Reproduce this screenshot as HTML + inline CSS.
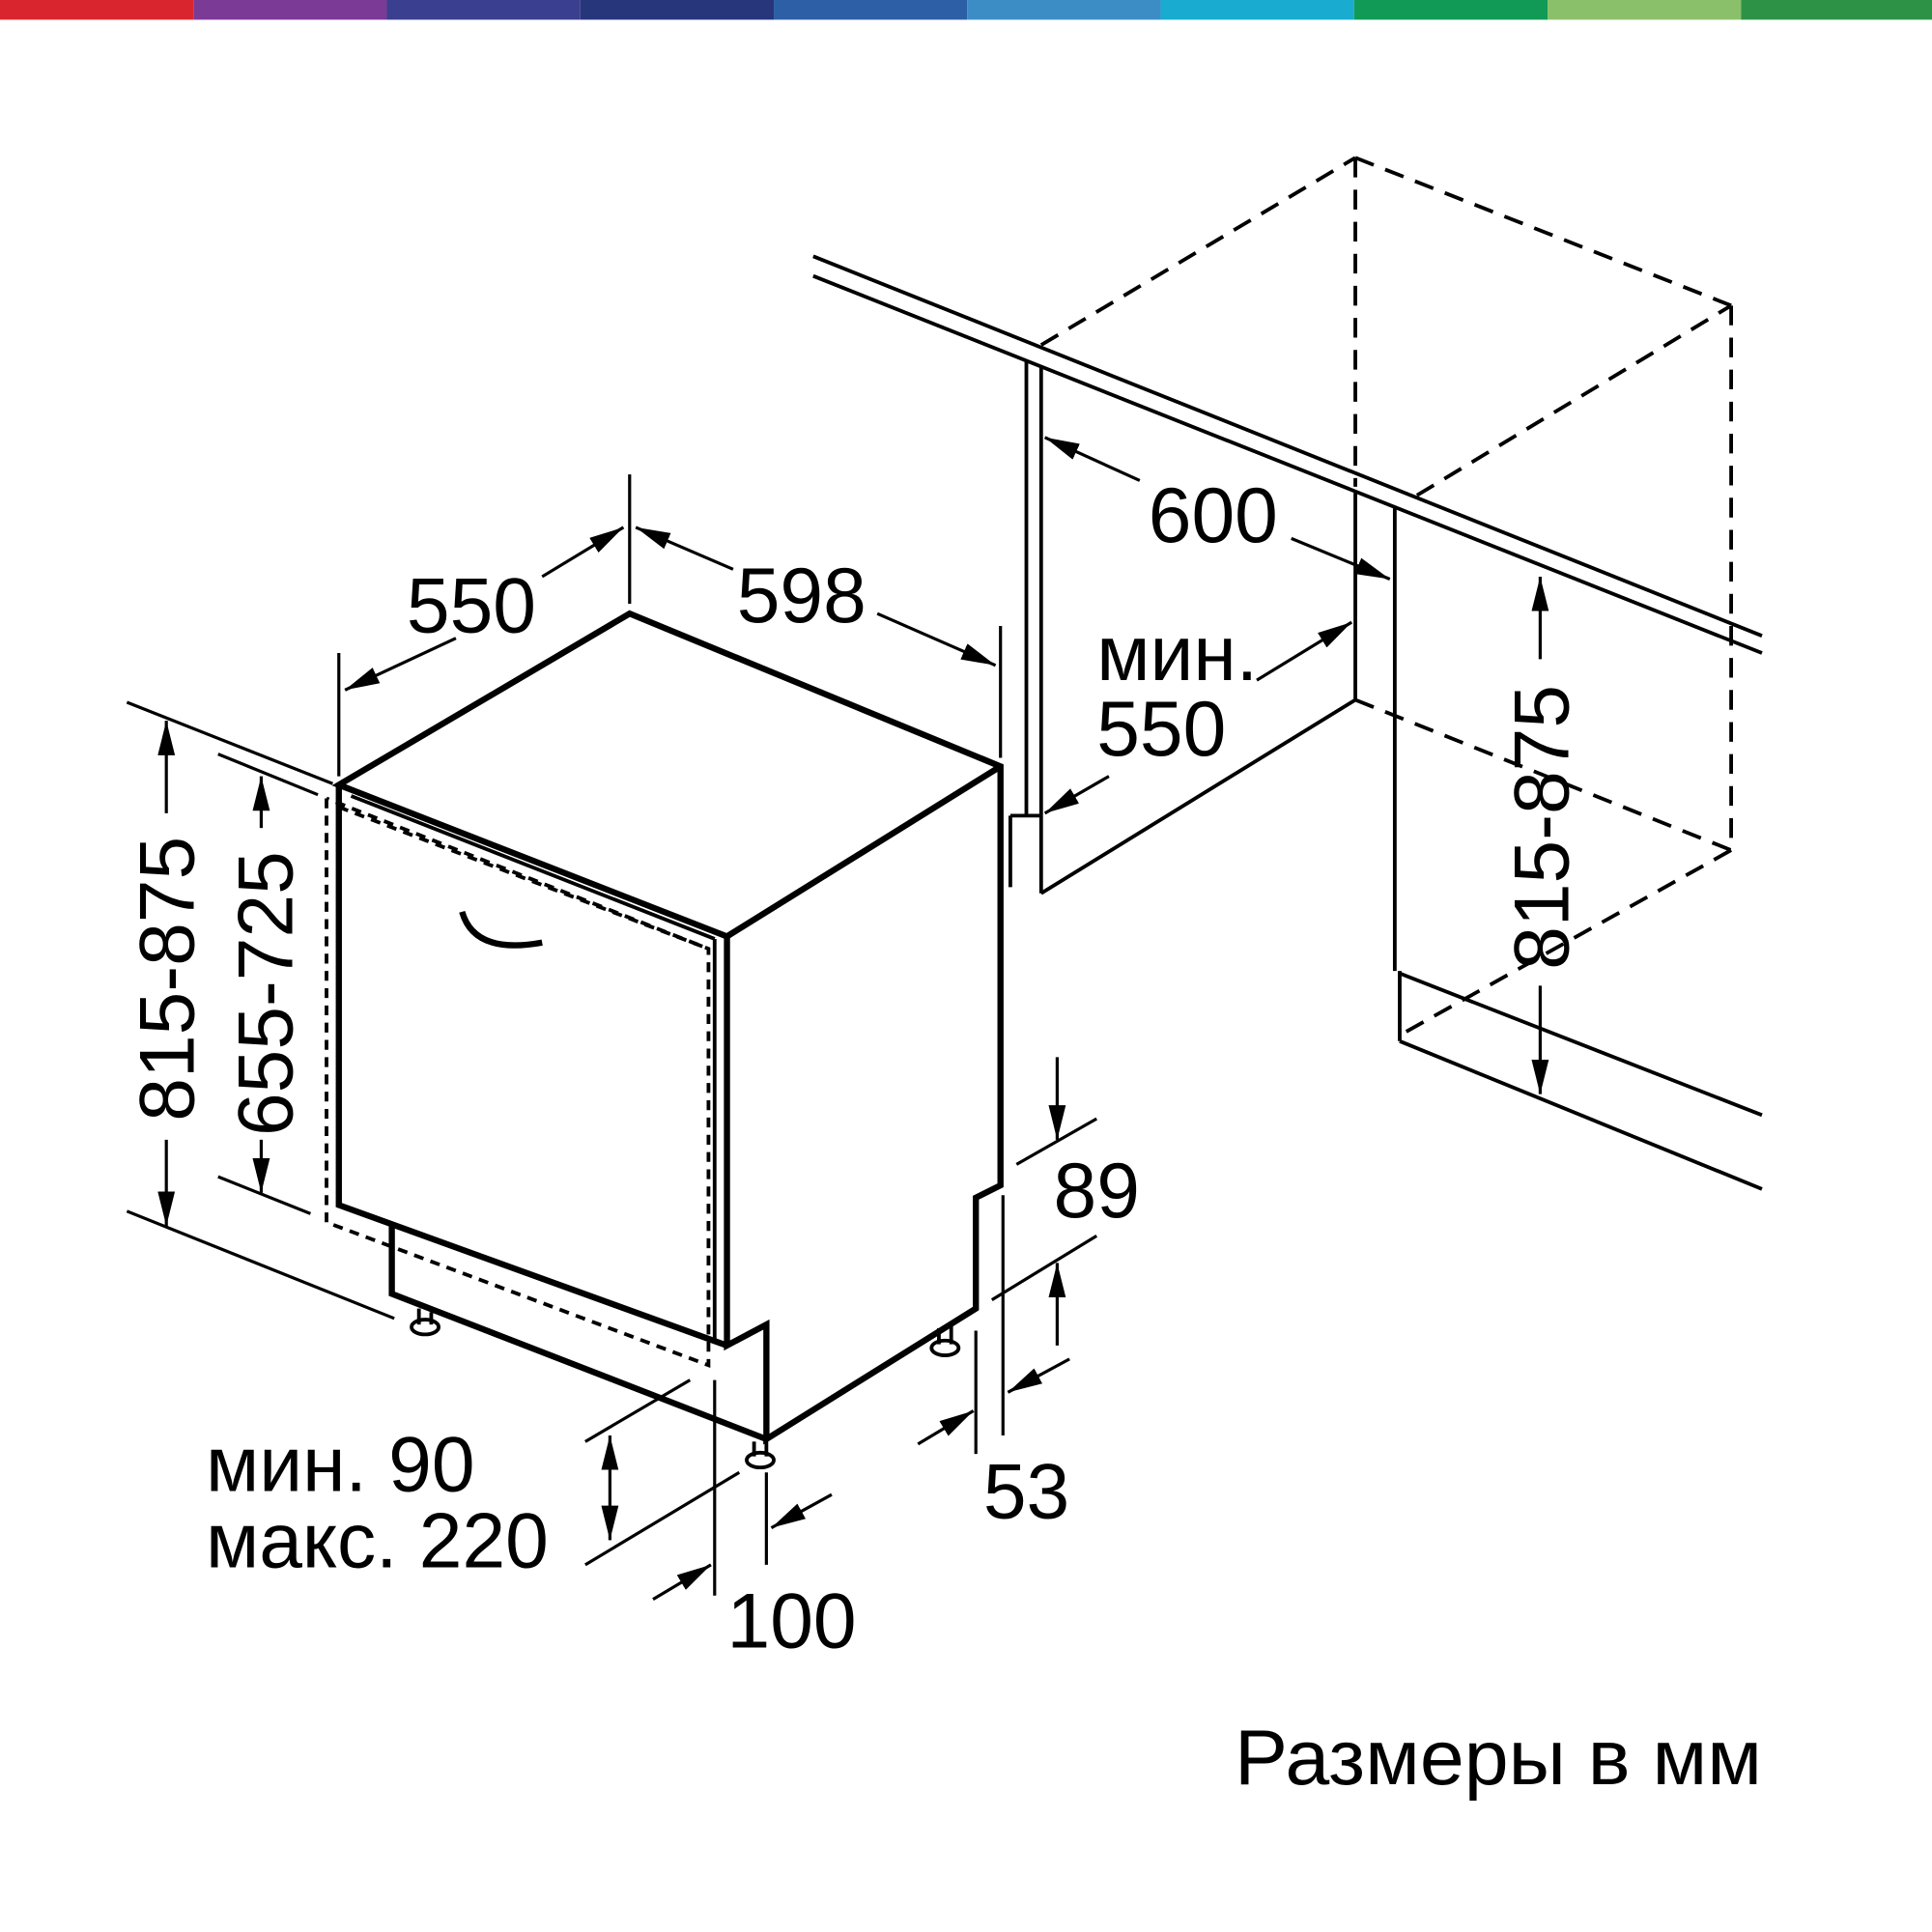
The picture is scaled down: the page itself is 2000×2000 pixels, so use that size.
<!DOCTYPE html>
<html><head><meta charset="utf-8"><style>
html,body{margin:0;padding:0;background:#fff;}
svg{display:block;}
text{font-family:"Liberation Sans",sans-serif;fill:#000;}
</style></head><body>
<svg width="2000" height="2000" viewBox="0 0 1568 1568" xmlns="http://www.w3.org/2000/svg">
<defs>
<marker id="b" viewBox="0 0 20 10" refX="20" refY="5" markerWidth="28" markerHeight="14" orient="auto-start-reverse" markerUnits="userSpaceOnUse"><path d="M0,0 L20,5 L0,10 z" fill="#000"/></marker>
</defs>
<rect x="0" y="0" width="157" height="16" fill="#d9262e"/>
<rect x="157" y="0" width="157" height="16" fill="#7b3a96"/>
<rect x="314" y="0" width="157" height="16" fill="#3a3f8f"/>
<rect x="471" y="0" width="157" height="16" fill="#27367a"/>
<rect x="628" y="0" width="157" height="16" fill="#2d5fa6"/>
<rect x="785" y="0" width="157" height="16" fill="#3c8dc5"/>
<rect x="942" y="0" width="157" height="16" fill="#1aabd0"/>
<rect x="1099" y="0" width="157" height="16" fill="#119a56"/>
<rect x="1256" y="0" width="157" height="16" fill="#8bc06b"/>
<rect x="1413" y="0" width="155" height="16" fill="#2e9246"/>

<g fill="none" stroke="#000" stroke-width="3">
<line x1="660" y1="208" x2="1430" y2="516"/>
<line x1="660" y1="224" x2="1430" y2="530"/>
<line x1="833" y1="293" x2="833" y2="662"/>
<line x1="845" y1="298" x2="845" y2="725"/>
<line x1="820" y1="662" x2="845" y2="662"/>
<line x1="820" y1="662" x2="820" y2="720"/>
<line x1="845" y1="725" x2="1100" y2="568"/>
<line x1="1100" y1="400" x2="1100" y2="568"/>
<line x1="1132" y1="412" x2="1132" y2="788"/>
<line x1="1136" y1="788" x2="1136" y2="845"/>
<line x1="1136" y1="790" x2="1430" y2="905"/>
<line x1="1136" y1="845" x2="1430" y2="965"/>
</g>
<g fill="none" stroke="#000" stroke-width="3" stroke-dasharray="16,10">
<line x1="845" y1="280" x2="1100" y2="128"/>
<line x1="1100" y1="128" x2="1405" y2="248"/>
<line x1="1100" y1="128" x2="1100" y2="395"/>
<line x1="1405" y1="248" x2="1405" y2="690"/>
<line x1="1150" y1="402" x2="1405" y2="248"/>
<line x1="1100" y1="568" x2="1405" y2="690"/>
<line x1="1405" y1="690" x2="1140" y2="838"/>
</g>

<g fill="none" stroke="#000" stroke-width="5" stroke-linejoin="miter">
<path d="M275,637 L511,498 L812,622 L812,962 L792,972 L792,1062 L622,1168 L622,1075 L590,1092 L590,760 L275,637 Z"/>
<path d="M812,622 L590,760"/>
<path d="M275,637 L275,978 L590,1092"/>
<path d="M318,993 L318,1050 L622,1168"/>
</g>
<g fill="none" stroke="#000" stroke-width="3">
<line x1="285" y1="646" x2="580" y2="762"/>
<line x1="580" y1="762" x2="580" y2="1090"/>
<path d="M375,740 Q385,775 440,765" stroke-width="5"/>
</g>
<g fill="none" stroke="#000" stroke-width="3" stroke-dasharray="8,6">
<path d="M265,648 L265,992 L575,1108 L575,770 L265,648"/>
<line x1="275" y1="655" x2="575" y2="770"/>
</g>
<g fill="#fff" stroke="#000" stroke-width="3">
<ellipse cx="345" cy="1077" rx="11" ry="6"/>
<ellipse cx="617" cy="1185" rx="11" ry="6"/>
<ellipse cx="767" cy="1094" rx="11" ry="6"/>
<line x1="340" y1="1062" x2="340" y2="1075"/><line x1="350" y1="1065" x2="350" y2="1075"/>
<line x1="612" y1="1170" x2="612" y2="1182"/><line x1="622" y1="1170" x2="622" y2="1182"/>
<line x1="762" y1="1078" x2="762" y2="1091"/><line x1="772" y1="1075" x2="772" y2="1091"/>
</g>

<g fill="none" stroke="#000" stroke-width="2.5">
<line x1="511" y1="385" x2="511" y2="490"/>
<line x1="275" y1="530" x2="275" y2="630"/>
<line x1="812" y1="508" x2="812" y2="615"/>
<line x1="280" y1="560" x2="370" y2="518" marker-start="url(#b)"/>
<line x1="440" y1="468" x2="506" y2="428" marker-end="url(#b)"/>
<line x1="516" y1="428" x2="595" y2="462" marker-start="url(#b)"/>
<line x1="712" y1="498" x2="808" y2="540" marker-end="url(#b)"/>
<line x1="848" y1="355" x2="925" y2="390" marker-start="url(#b)"/>
<line x1="1048" y1="437" x2="1128" y2="470" marker-end="url(#b)"/>
<line x1="1020" y1="552" x2="1097" y2="505" marker-end="url(#b)"/>
<line x1="848" y1="660" x2="900" y2="630" marker-start="url(#b)"/>
<line x1="1250" y1="468" x2="1250" y2="535" marker-start="url(#b)"/>
<line x1="1250" y1="800" x2="1250" y2="888" marker-end="url(#b)"/>
<line x1="103" y1="570" x2="270" y2="636"/>
<line x1="103" y1="983" x2="320" y2="1070"/>
<line x1="135" y1="585" x2="135" y2="660" marker-start="url(#b)"/>
<line x1="135" y1="925" x2="135" y2="995" marker-end="url(#b)"/>
<line x1="177" y1="612" x2="258" y2="645"/>
<line x1="177" y1="955" x2="252" y2="985"/>
<line x1="212" y1="630" x2="212" y2="672" marker-start="url(#b)"/>
<line x1="212" y1="925" x2="212" y2="968" marker-end="url(#b)"/>
<line x1="825" y1="945" x2="890" y2="908"/>
<line x1="805" y1="1055" x2="890" y2="1003"/>
<line x1="858" y1="858" x2="858" y2="925" marker-end="url(#b)"/>
<line x1="858" y1="1025" x2="858" y2="1092" marker-start="url(#b)"/>
<line x1="792" y1="1080" x2="792" y2="1180"/>
<line x1="814" y1="970" x2="814" y2="1165"/>
<line x1="745" y1="1172" x2="790" y2="1145" marker-end="url(#b)"/>
<line x1="818" y1="1130" x2="868" y2="1103" marker-start="url(#b)"/>
<line x1="475" y1="1170" x2="560" y2="1120"/>
<line x1="475" y1="1270" x2="600" y2="1195"/>
<line x1="495" y1="1165" x2="495" y2="1250" marker-start="url(#b)" marker-end="url(#b)"/>
<line x1="580" y1="1120" x2="580" y2="1295"/>
<line x1="622" y1="1195" x2="622" y2="1270"/>
<line x1="530" y1="1298" x2="577" y2="1270" marker-end="url(#b)"/>
<line x1="626" y1="1240" x2="675" y2="1213" marker-start="url(#b)"/>
</g>

<g font-size="63">
<text x="330" y="513">550</text>
<text x="598" y="505">598</text>
<text x="932" y="440">600</text>
<text x="890" y="552">мин.</text>
<text x="890" y="613">550</text>
<text x="855" y="988">89</text>
<text x="798" y="1232">53</text>
<text x="590" y="1337">100</text>
<text x="167" y="1210">мин. 90</text>
<text x="167" y="1272">макс. 220</text>
<text x="1002" y="1448" textLength="428" lengthAdjust="spacingAndGlyphs">Размеры в мм</text>
<text transform="translate(157,910) rotate(-90)">815-875</text>
<text transform="translate(237,922) rotate(-90)">655-725</text>
<text transform="translate(1273,787) rotate(-90)">815-875</text>
</g>
</svg>
</body></html>
